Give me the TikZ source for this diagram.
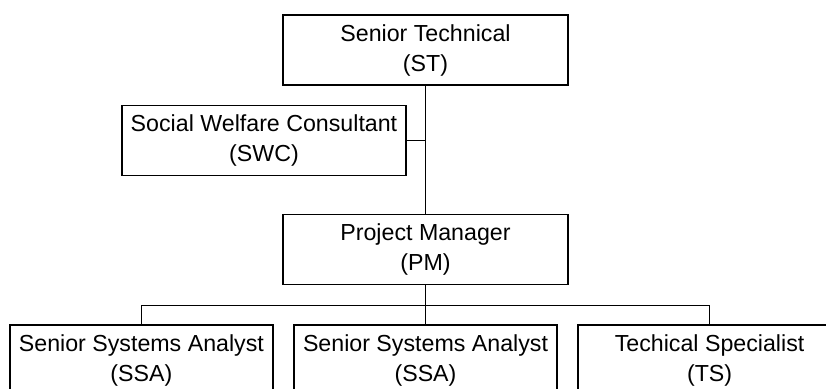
\documentclass[tikz,border=0pt]{standalone}
\usepackage{fontspec}
\setmainfont{Liberation Sans}
\usetikzlibrary{positioning}

\begin{document}
\begin{tikzpicture}[x=1pt, y=1pt, line width=0.8pt,
    role/.style={rectangle, draw, align=center, inner sep=0pt, minimum height=35pt, font=\fontsize{11.6}{15}\selectfont},
    upper/.style={role, minimum width=142.5pt},
    lower/.style={role, minimum width=131.5pt}]
    \useasboundingbox (0,0) rectangle (413,-194);
    \clip (0,0) rectangle (413,-194);

    \node (st) [upper] at (212.75,-25) {Senior Technical\\(ST)};
    \node (swc) [role, minimum width=142pt] at (132,-70.25) {Social Welfare Consultant\\(SWC)};
    \node (pm) [upper, below=64pt of st] {Project Manager\\(PM)};
    \node (ssa2) [lower, below=19.5pt of pm] {Senior Systems Analyst\\(SSA)};
    \node (ssa1) [lower, left=9.75pt of ssa2] {Senior Systems Analyst\\(SSA)};
    \node (ts) [lower, right=9.75pt of ssa2] {Techical Specialist\\(TS)};

    \coordinate (bus) at ([yshift=-10pt]pm.south);

    \draw (st) -- (pm);
    \draw (swc) -- (swc -| st);
    \draw (pm) -- (ssa2);
    \draw (ssa1.north) |- (bus) -| (ts.north);
\end{tikzpicture}
\end{document}
